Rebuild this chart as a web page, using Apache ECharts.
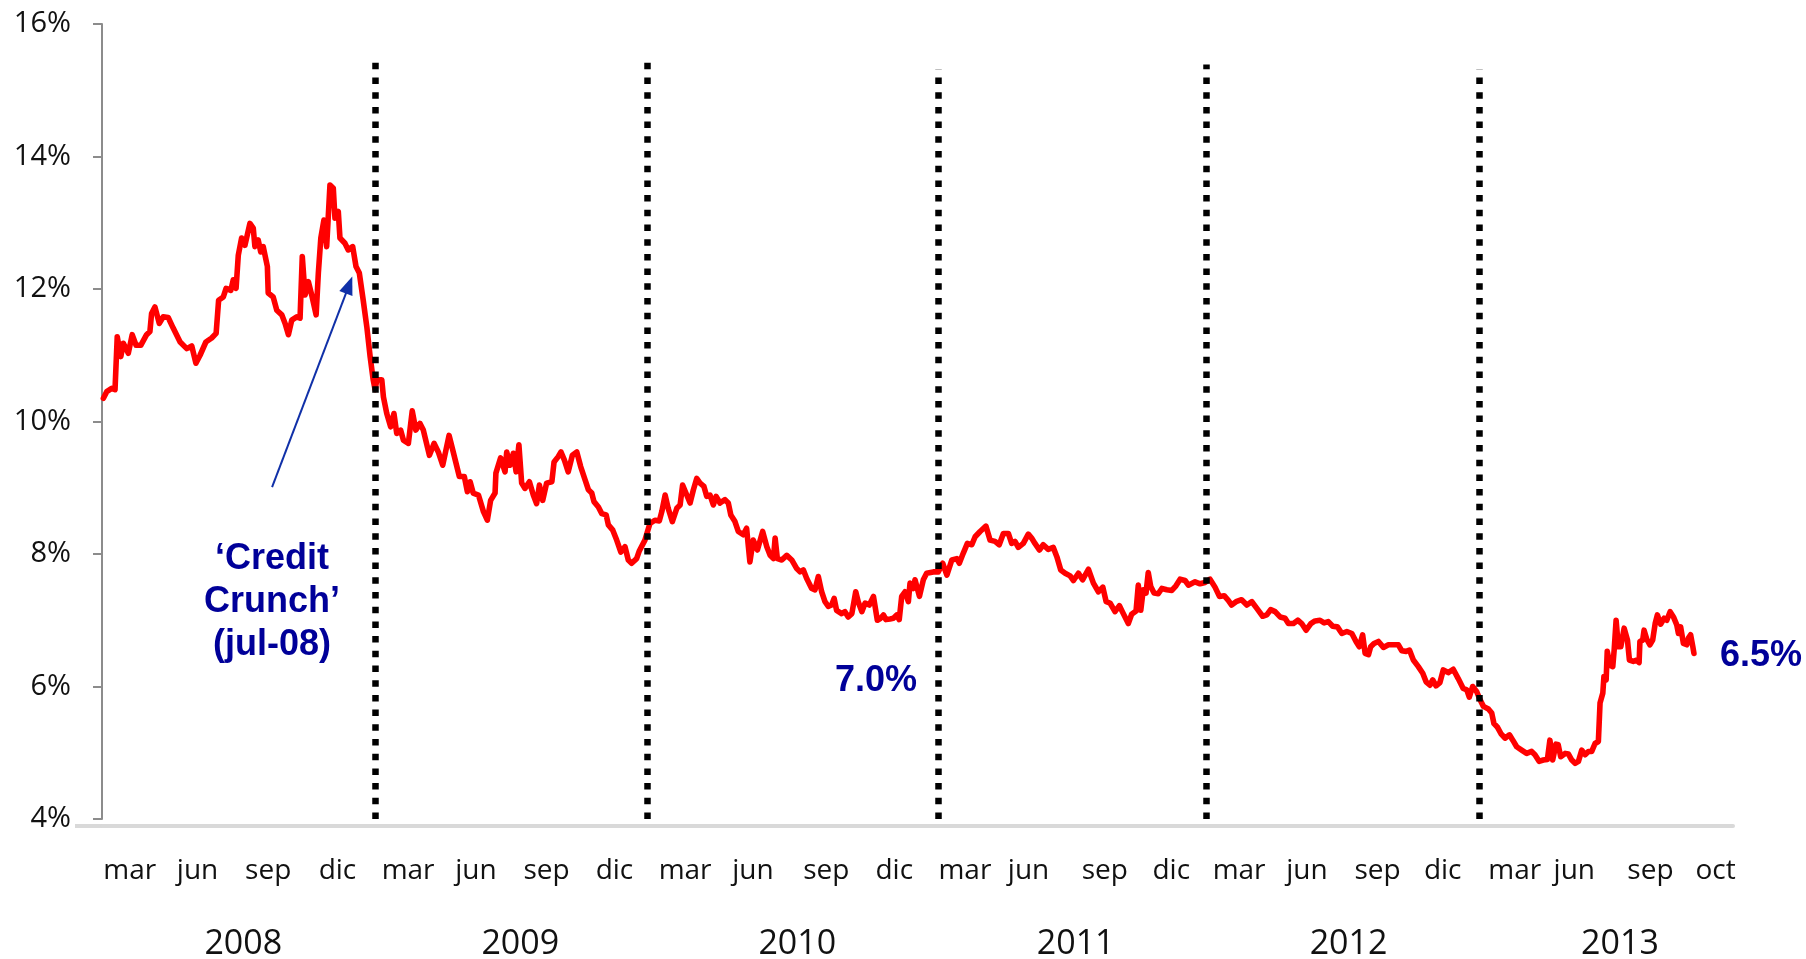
<!DOCTYPE html>
<html>
<head>
<meta charset="utf-8">
<script src="https://cdn.jsdelivr.net/npm/echarts@6/dist/echarts.min.js"></script>
<style>
  html, body { margin: 0; padding: 0; background: #ffffff; }
  #chart { width: 1806px; height: 959px; }
</style>
</head>
<body>
<div id="chart"></div>
<script>
// Yield range shown on the vertical axis (percent)
const yMin = 4, yMax = 16, yStep = 2;
// Horizontal axis in decimal years
const xStart = 2008, xEnd = 2013.888;

// Rate readings [decimal year, %], one array per calendar year
const rate2008 = [
  [2008.005,10.35],[2008.017,10.45],[2008.035,10.50],[2008.047,10.48],[2008.055,11.28],[2008.068,10.98],
  [2008.077,11.18],[2008.095,11.03],[2008.109,11.31],[2008.123,11.15],[2008.140,11.15],[2008.161,11.31],
  [2008.173,11.36],[2008.179,11.63],[2008.191,11.73],[2008.207,11.48],[2008.221,11.58],[2008.239,11.57],
  [2008.257,11.41],[2008.282,11.20],[2008.306,11.10],[2008.324,11.14],[2008.339,10.88],[2008.354,11.00],
  [2008.375,11.20],[2008.396,11.26],[2008.412,11.33],[2008.421,11.83],[2008.438,11.88],[2008.448,12.01],
  [2008.465,11.98],[2008.474,12.14],[2008.484,12.01],[2008.492,12.51],[2008.504,12.77],[2008.516,12.66],
  [2008.534,12.99],[2008.546,12.92],[2008.552,12.64],[2008.564,12.74],[2008.573,12.56],[2008.582,12.64],
  [2008.597,12.34],[2008.600,11.94],[2008.618,11.88],[2008.631,11.68],[2008.649,11.61],[2008.661,11.48],
  [2008.673,11.31],[2008.685,11.53],[2008.703,11.58],[2008.715,11.56],[2008.723,12.49],[2008.733,11.91],
  [2008.745,12.11],[2008.757,11.91],[2008.773,11.61],[2008.781,12.24],[2008.790,12.77],[2008.801,13.04],
  [2008.811,12.64],[2008.823,13.57],[2008.835,13.52],[2008.841,13.07],[2008.853,13.17],[2008.859,12.77],
  [2008.877,12.69],[2008.889,12.59],[2008.905,12.64],[2008.917,12.34],[2008.929,12.24],[2008.943,11.83],
  [2008.956,11.43],[2008.968,10.98],[2008.979,10.63],[2008.986,10.48],[2008.992,10.63]
];
const rate2009 = [
  [2009.010,10.63],[2009.016,10.37],[2009.028,10.12],[2009.042,9.92],[2009.054,10.12],[2009.064,9.82],
  [2009.078,9.87],[2009.088,9.72],[2009.106,9.67],[2009.120,10.16],[2009.133,9.87],[2009.148,9.97],
  [2009.160,9.87],[2009.182,9.49],[2009.199,9.67],[2009.214,9.54],[2009.230,9.34],[2009.253,9.79],
  [2009.268,9.54],[2009.290,9.17],[2009.308,9.17],[2009.319,8.94],[2009.329,9.09],[2009.340,8.92],
  [2009.359,8.89],[2009.377,8.64],[2009.391,8.51],[2009.403,8.81],[2009.419,8.92],[2009.422,9.22],
  [2009.439,9.45],[2009.455,9.24],[2009.461,9.54],[2009.473,9.34],[2009.485,9.52],[2009.495,9.24],
  [2009.505,9.65],[2009.515,9.07],[2009.527,8.99],[2009.543,9.09],[2009.557,8.89],[2009.569,8.76],
  [2009.579,9.04],[2009.591,8.81],[2009.605,9.07],[2009.624,9.09],[2009.632,9.39],[2009.647,9.47],
  [2009.657,9.54],[2009.669,9.42],[2009.683,9.24],[2009.698,9.49],[2009.714,9.54],[2009.728,9.32],
  [2009.744,9.12],[2009.756,8.97],[2009.768,8.92],[2009.776,8.79],[2009.792,8.71],[2009.804,8.61],
  [2009.820,8.59],[2009.828,8.44],[2009.844,8.36],[2009.858,8.21],[2009.873,8.03],[2009.888,8.11],
  [2009.900,7.91],[2009.912,7.86],[2009.930,7.93],[2009.940,8.05],[2009.960,8.21],[2009.978,8.46],
  [2009.996,8.51]
];
const rate2010 = [
  [2010.012,8.50],[2010.021,8.64],[2010.033,8.89],[2010.044,8.69],[2010.059,8.49],[2010.075,8.69],
  [2010.087,8.74],[2010.096,9.04],[2010.111,8.89],[2010.123,8.77],[2010.135,8.97],[2010.147,9.14],
  [2010.159,9.07],[2010.173,9.02],[2010.183,8.87],[2010.195,8.89],[2010.207,8.74],[2010.217,8.87],
  [2010.231,8.77],[2010.249,8.82],[2010.261,8.77],[2010.270,8.59],[2010.285,8.49],[2010.297,8.34],
  [2010.315,8.29],[2010.327,8.39],[2010.339,7.88],[2010.351,8.21],[2010.366,8.06],[2010.385,8.34],
  [2010.400,8.11],[2010.412,7.98],[2010.424,7.93],[2010.430,8.24],[2010.438,7.93],[2010.454,7.91],
  [2010.472,7.98],[2010.490,7.91],[2010.508,7.78],[2010.520,7.73],[2010.532,7.76],[2010.544,7.63],
  [2010.562,7.48],[2010.574,7.46],[2010.586,7.66],[2010.598,7.43],[2010.610,7.28],[2010.622,7.21],
  [2010.634,7.23],[2010.643,7.33],[2010.652,7.15],[2010.670,7.10],[2010.682,7.13],[2010.694,7.05],
  [2010.707,7.10],[2010.721,7.43],[2010.730,7.28],[2010.743,7.13],[2010.755,7.26],[2010.770,7.23],
  [2010.785,7.36],[2010.799,7.00],[2010.811,7.03],[2010.821,7.08],[2010.830,7.01],[2010.845,7.02],
  [2010.857,7.03],[2010.869,7.08],[2010.878,7.01],[2010.887,7.36],[2010.899,7.43],[2010.911,7.28],
  [2010.917,7.56],[2010.929,7.48],[2010.935,7.61],[2010.951,7.36],[2010.965,7.61],[2010.977,7.71]
];
const rate2011 = [
  [2011.001,7.73],[2011.019,7.73],[2011.035,7.86],[2011.050,7.68],[2011.068,7.91],[2011.086,7.93],
  [2011.095,7.86],[2011.109,8.01],[2011.124,8.16],[2011.140,8.14],[2011.152,8.26],[2011.170,8.34],
  [2011.191,8.42],[2011.206,8.21],[2011.224,8.19],[2011.239,8.14],[2011.254,8.31],[2011.272,8.31],
  [2011.284,8.16],[2011.296,8.19],[2011.308,8.10],[2011.326,8.16],[2011.344,8.30],[2011.356,8.24],
  [2011.368,8.16],[2011.384,8.06],[2011.398,8.14],[2011.416,8.07],[2011.434,8.10],[2011.447,7.96],
  [2011.461,7.76],[2011.477,7.71],[2011.495,7.67],[2011.507,7.60],[2011.525,7.71],[2011.540,7.61],
  [2011.561,7.77],[2011.579,7.56],[2011.597,7.43],[2011.613,7.50],[2011.625,7.28],[2011.639,7.26],
  [2011.657,7.13],[2011.673,7.22],[2011.687,7.10],[2011.705,6.95],[2011.717,7.09],[2011.733,7.14],
  [2011.741,7.53],[2011.750,7.15],[2011.759,7.46],[2011.769,7.41],[2011.777,7.72],[2011.786,7.51],
  [2011.798,7.41],[2011.813,7.40],[2011.826,7.48],[2011.844,7.46],[2011.862,7.45],[2011.877,7.52],
  [2011.892,7.62],[2011.910,7.60],[2011.922,7.53],[2011.946,7.58],[2011.964,7.55],[2011.982,7.57]
];
const rate2012 = [
  [2012.000,7.62],[2012.018,7.50],[2012.034,7.36],[2012.051,7.37],[2012.066,7.30],[2012.078,7.23],
  [2012.094,7.28],[2012.114,7.31],[2012.133,7.23],[2012.151,7.28],[2012.169,7.18],[2012.190,7.06],
  [2012.205,7.08],[2012.219,7.16],[2012.235,7.13],[2012.253,7.05],[2012.271,7.03],[2012.283,6.95],
  [2012.301,6.95],[2012.317,7.00],[2012.331,6.95],[2012.347,6.85],[2012.364,6.95],[2012.379,6.99],
  [2012.397,7.00],[2012.412,6.96],[2012.427,6.98],[2012.443,6.91],[2012.460,6.90],[2012.476,6.80],
  [2012.494,6.83],[2012.512,6.80],[2012.527,6.68],[2012.539,6.60],[2012.551,6.78],[2012.560,6.50],
  [2012.572,6.48],[2012.580,6.60],[2012.592,6.65],[2012.608,6.68],[2012.626,6.59],[2012.644,6.63],
  [2012.662,6.63],[2012.680,6.63],[2012.692,6.54],[2012.708,6.53],[2012.720,6.55],[2012.734,6.40],
  [2012.752,6.30],[2012.768,6.20],[2012.780,6.07],[2012.794,6.02],[2012.804,6.10],[2012.816,6.01],
  [2012.830,6.06],[2012.842,6.25],[2012.860,6.21],[2012.878,6.26],[2012.896,6.12],[2012.914,5.97],
  [2012.927,5.95],[2012.936,5.84],[2012.948,6.00],[2012.963,5.92],[2012.975,5.80],[2012.987,5.70]
];
const rate2013 = [
  [2013.005,5.66],[2013.017,5.60],[2013.025,5.44],[2013.037,5.39],[2013.050,5.29],[2013.065,5.22],
  [2013.081,5.27],[2013.093,5.19],[2013.107,5.09],[2013.125,5.04],[2013.143,4.99],[2013.161,5.02],
  [2013.173,4.97],[2013.188,4.87],[2013.203,4.89],[2013.218,4.90],[2013.227,5.19],[2013.237,4.89],
  [2013.249,5.13],[2013.257,5.12],[2013.266,4.94],[2013.282,4.99],[2013.294,4.98],[2013.306,4.89],
  [2013.318,4.84],[2013.330,4.87],[2013.342,5.04],[2013.354,4.97],[2013.366,5.02],[2013.378,5.02],
  [2013.390,5.14],[2013.402,5.17],[2013.408,5.75],[2013.418,5.90],[2013.422,6.15],[2013.430,6.10],
  [2013.434,6.53],[2013.444,6.32],[2013.454,6.30],[2013.459,6.55],[2013.466,7.00],[2013.474,6.60],
  [2013.483,6.60],[2013.495,6.88],[2013.507,6.70],[2013.514,6.40],[2013.528,6.38],[2013.540,6.40],
  [2013.549,6.36],[2013.552,6.68],[2013.562,6.70],[2013.567,6.85],[2013.577,6.71],[2013.588,6.63],
  [2013.598,6.70],[2013.607,6.95],[2013.615,7.08],[2013.627,6.94],[2013.639,7.03],[2013.649,7.00],
  [2013.661,7.13],[2013.673,7.05],[2013.685,6.93],[2013.691,6.80],[2013.699,6.90],[2013.709,6.65],
  [2013.721,6.63],[2013.727,6.73],[2013.735,6.78],[2013.743,6.60],[2013.747,6.50]
];

// Quarter labels under the axis and their positions
const quarterPos = [
  2008.100, 2008.345, 2008.600, 2008.850,
  2009.105, 2009.350, 2009.605, 2009.850,
  2010.105, 2010.350, 2010.615, 2010.860,
  2011.115, 2011.345, 2011.620, 2011.860,
  2012.105, 2012.350, 2012.605, 2012.840,
  2013.100, 2013.315, 2013.590, 2013.825
];
const quarterText = [
  'mar', 'jun', 'sep', 'dic',
  'mar', 'jun', 'sep', 'dic',
  'mar', 'jun', 'sep', 'dic',
  'mar', 'jun', 'sep', 'dic',
  'mar', 'jun', 'sep', 'dic',
  'mar', 'jun', 'sep', 'oct'
];
// Year labels (second row)
const yearPos = [2008.51, 2009.51, 2010.51, 2011.515, 2012.50, 2013.48];
const yearText = ['2008', '2009', '2010', '2011', '2012', '2013'];

// Dotted year separators: x position and top end (%)
const yearBreaks = [2008.986, 2009.969, 2011.019, 2011.985, 2012.971];
const breakTops = [15.42, 15.42, 15.32, 15.39, 15.32];

// Annotation anchors (decimal year, %)
const crunchText = '\u2018Credit\nCrunch\u2019\n(jul-08)';
const crunchAnchor = [2008.614, 7.27];
const arrowFrom = [2008.614, 9.01];
const arrowTo = [2008.892, 12.06];
const lowLabelAnchor = [2010.794, 6.08];

const allRates = [].concat(rate2008, rate2009, rate2010, rate2011, rate2012, rate2013);
// 2010 low that the blue figure refers to
const low2010 = Math.min.apply(null, rate2010.map(p => p[1]));

const NAVY = '#000099';
const LABEL_FONT = 'Open Sans';
const NOTE_FONT = 'Liberation Sans';

function lookupText(positions, texts, v) {
  for (let i = 0; i < positions.length; i++) {
    if (Math.abs(positions[i] - v) < 1e-6) return texts[i];
  }
  return '';
}

const separatorLines = yearBreaks.map((x, i) => [
  { coord: [x, yMin],
    lineStyle: { color: '#000000', width: 6.5, type: [6.5, 8.2], cap: 'butt' } },
  { coord: [x, breakTops[i]] }
]);

const arrowLine = [
  { coord: arrowFrom, symbol: 'none',
    lineStyle: { color: '#1030a8', width: 2, type: 'solid' } },
  { coord: arrowTo, symbol: 'triangle', symbolSize: [14, 18] }
];

const chart = echarts.init(document.getElementById('chart'), null, { renderer: 'canvas' });

const GRID = { left: 102, right: 73, top: 24, bottom: 140 };
const AXIS_OFFSET = 7;

chart.setOption({
  animation: false,
  backgroundColor: '#ffffff',
  // keep the plot rectangle fixed; labels may sit close to the edges
  grid: Object.assign({ containLabel: false, outerBoundsMode: 'none' }, GRID),
  // short stub of the base line to the left of the value axis
  graphic: [{
    type: 'line',
    silent: true,
    shape: { x1: 75, y1: 959 - GRID.bottom + AXIS_OFFSET, x2: GRID.left, y2: 959 - GRID.bottom + AXIS_OFFSET },
    style: { stroke: '#d9d9d9', lineWidth: 4 }
  }],
  xAxis: [
    {
      type: 'value', min: xStart, max: xEnd, offset: AXIS_OFFSET,
      axisLine: { show: true, lineStyle: { color: '#d9d9d9', width: 4 } },
      axisTick: { show: false },
      splitLine: { show: false },
      axisLabel: {
        customValues: quarterPos,
        formatter: v => lookupText(quarterPos, quarterText, v),
        margin: 45, verticalAlign: 'middle',
        fontFamily: LABEL_FONT, fontSize: 28, color: '#111111'
      }
    },
    {
      type: 'value', min: xStart, max: xEnd, offset: AXIS_OFFSET, position: 'bottom',
      axisLine: { show: false }, axisTick: { show: false }, splitLine: { show: false },
      axisLabel: {
        customValues: yearPos,
        formatter: v => lookupText(yearPos, yearText, v),
        margin: 118, verticalAlign: 'middle',
        fontFamily: LABEL_FONT, fontSize: 34, color: '#111111'
      }
    }
  ],
  yAxis: {
    type: 'value', min: yMin, max: yMax, interval: yStep,
    axisLine: { show: true, lineStyle: { color: '#8c8c8c', width: 2 } },
    axisTick: { show: true, length: 9, lineStyle: { color: '#8c8c8c', width: 2 } },
    splitLine: { show: false },
    axisLabel: {
      formatter: '{value}%', margin: 31,
      fontFamily: LABEL_FONT, fontSize: 29, color: '#111111'
    }
  },
  series: [
    {
      type: 'line',
      data: allRates,
      xAxisIndex: 0,
      showSymbol: false,
      symbol: 'none',
      silent: true,
      clip: false,
      lineStyle: { color: '#ff0000', width: 5.6, join: 'round', cap: 'round' },
      endLabel: {
        show: true,
        formatter: p => p.value[1].toFixed(1) + '%',
        distance: 26,
        offset: [0, 3],
        color: NAVY, fontFamily: NOTE_FONT, fontWeight: 'bold', fontSize: 36
      },
      markLine: {
        silent: true,
        animation: false,
        symbol: ['none', 'none'],
        label: { show: false },
        emphasis: { disabled: true },
        data: separatorLines.concat([arrowLine])
      },
      markPoint: {
        silent: true,
        animation: false,
        data: [
          {
            coord: lowLabelAnchor, symbol: 'circle', symbolSize: 0,
            label: {
              show: true, position: 'inside',
              formatter: low2010.toFixed(1) + '%',
              color: NAVY, fontFamily: NOTE_FONT, fontWeight: 'bold', fontSize: 36
            }
          },
          {
            coord: crunchAnchor, symbol: 'circle', symbolSize: 0,
            label: {
              show: true, position: 'inside', align: 'center',
              formatter: crunchText, lineHeight: 43,
              color: NAVY, fontFamily: NOTE_FONT, fontWeight: 'bold', fontSize: 36
            }
          }
        ]
      }
    }
  ]
});
</script>
</body>
</html>
